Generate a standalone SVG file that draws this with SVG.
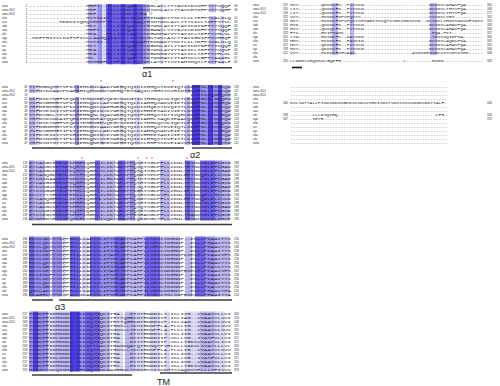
<svg xmlns="http://www.w3.org/2000/svg" width="500" height="386" viewBox="0 0 500 386">
<style>
.s{font-family:"Liberation Mono",monospace;font-size:3.6px;fill:#1e1e2e}
.lb{font-family:"Liberation Sans",sans-serif;font-size:3px;fill:#333}
.nm{font-family:"Liberation Sans",sans-serif;font-size:3px;fill:#333}
.ne{font-family:"Liberation Sans",sans-serif;font-size:3px;fill:#333;text-anchor:end}
.c1{fill:#dcdaf7}.c2{fill:#bdb8f3}.c3{fill:#968ef0}.c4{fill:#6d61ef}.c5{fill:#4a3be6}
.ul{stroke:#3c3c3c;stroke-width:1.5}
.ast{font-family:"Liberation Sans",sans-serif;font-size:5px;fill:#e0352a;text-anchor:middle}
.ttl{font-family:"Liberation Sans",sans-serif;font-size:9px;fill:#222}
</style>
<defs>
<g id="labels">
<text class="lb" x="2" y="1.1">ama</text><text class="lb" x="2" y="5.1">ama-iX01</text><text class="lb" x="2" y="9.1">ama-iX02</text><text class="lb" x="2" y="13.1">aha</text><text class="lb" x="2" y="17.1">aca</text><text class="lb" x="2" y="21.1">ado</text><text class="lb" x="2" y="25.1">aaa</text><text class="lb" x="2" y="29.1">afu</text><text class="lb" x="2" y="33.1">aga</text><text class="lb" x="2" y="37.1">aha</text><text class="lb" x="2" y="41.1">asi</text><text class="lb" x="2" y="45.1">aja</text><text class="lb" x="2" y="49.1">aka</text><text class="lb" x="2" y="53.1">afa</text><text class="lb" x="2" y="57.1">ama</text>
</g>
</defs>
<rect width="500" height="386" fill="#fff"/>

<!-- Block 1 -->
<g id="block1" transform="translate(0,6.2)">
<use href="#labels"/>
<rect class="c2" x="88" y="-2" width="10" height="60"/><rect class="c3" x="98" y="-2" width="4" height="60"/><rect class="c1" x="102" y="-2" width="4" height="60"/><rect class="c4" x="106" y="-2" width="37" height="60"/><rect class="c5" x="108" y="-2" width="4" height="60"/><rect class="c5" x="121" y="-2" width="4" height="60"/><rect class="c5" x="133" y="-2" width="4" height="60"/><rect class="c3" x="143" y="-2" width="3" height="60"/><rect class="c2" x="146" y="-2" width="4" height="60"/><rect class="c1" x="160" y="-2" width="3" height="60"/><rect class="c2" x="209" y="-2" width="7" height="60"/><rect class="c1" x="220" y="-2" width="4" height="60"/>
<rect fill="#fff" x="146.8" y="6" width="85" height="4"/>
<g class="ne"><text x="27.5" y="1.1">1</text><text x="27.5" y="5.1">1</text><text x="27.5" y="9.1">1</text><text x="27.5" y="13.1">1</text><text x="27.5" y="17.1">1</text><text x="27.5" y="21.1">1</text><text x="27.5" y="25.1">1</text><text x="27.5" y="29.1">1</text><text x="27.5" y="33.1">1</text><text x="27.5" y="37.1">1</text><text x="27.5" y="41.1">1</text><text x="27.5" y="45.1">1</text><text x="27.5" y="49.1">1</text><text x="27.5" y="53.1">1</text><text x="27.5" y="57.1">1</text></g>
<g class="s">
<text x="29" y="1.1" textLength="202" lengthAdjust="spacingAndGlyphs">-----------------MRFT--YLLLCIQAAYSSKRLAYLYTYAVICDINFPYTTVQQF</text>
<text x="29" y="5.1" textLength="202" lengthAdjust="spacingAndGlyphs">-----------------MRF---YLLLCIHLVVHSKTWSLAYLYTAVCHTDFPYTTVQHF</text>
<text x="29" y="9.1" textLength="117.8" lengthAdjust="spacingAndGlyphs">-----------------MRF---YLLLCIHLVVHA</text>
<text x="29" y="13.1" textLength="202" lengthAdjust="spacingAndGlyphs">-----------------MSSICIC-LLVVCGIAAHTENWAKYYSCTLCLTEFPYVALNLQ</text>
<text x="29" y="17.1" textLength="202" lengthAdjust="spacingAndGlyphs">---------MKDKITQMQKEEPPIPLLLGCIAAQVRSMTWSLAYLYTYVICLTDFPYTVL</text>
<text x="29" y="21.1" textLength="202" lengthAdjust="spacingAndGlyphs">-----------------MKT---YLLICIQASYSSRTWNLAYIYTAVICDTDFPYTVQQF</text>
<text x="29" y="25.1" textLength="202" lengthAdjust="spacingAndGlyphs">-----------------MRFT--YLLLCIQAAYSSKRWAYLYTYAVICDINFPYTTVQQF</text>
<text x="29" y="29.1" textLength="202" lengthAdjust="spacingAndGlyphs">-----------------MEA---FLLICILAAYSSKRWNMAYVYTAVICLTEFPYVHLNL</text>
<text x="29" y="33.1" textLength="202" lengthAdjust="spacingAndGlyphs">-MKFPHISVLKIFSFISCLAAMQQIAVLLLVVVGSHKTWSLAYLYTAVIGDIFPVVHRQF</text>
<text x="29" y="37.1" textLength="202" lengthAdjust="spacingAndGlyphs">-----------------MSSIC-C-LLVVCGIAAHTENWAKYYSCTLCLTEFPYVALNLQ</text>
<text x="29" y="41.1" textLength="202" lengthAdjust="spacingAndGlyphs">-----------------MKT---YLLLCIQAAYSSKRWNLAYLYTAVICDTDFPYTVQQF</text>
<text x="29" y="45.1" textLength="202" lengthAdjust="spacingAndGlyphs">-----------------MEA---YLLICIQASYSSRTWNLAYIYTAVICLTEFPYTVQKF</text>
<text x="29" y="49.1" textLength="202" lengthAdjust="spacingAndGlyphs">-----------------MEA---FLLICILAAYSSKRWNMAYVYTAVICLTEFPYVHLNL</text>
<text x="29" y="53.1" textLength="202" lengthAdjust="spacingAndGlyphs">-----------------MN----YLLLCIQAPYSSKTWNMAYLYTAMICLSGFPYAAAHL</text>
<text x="29" y="57.1" textLength="202" lengthAdjust="spacingAndGlyphs">-----------------MNMRRFLLFFVVILSQTWSLAYVYTSVIAMSMQTLPKTFAALF</text>
</g>
<g class="nm"><text x="234" y="1.1">48</text><text x="234" y="5.1">48</text><text x="149" y="9.1">17</text><text x="234" y="13.1">50</text><text x="234" y="17.1">58</text><text x="234" y="21.1">48</text><text x="234" y="25.1">48</text><text x="234" y="29.1">48</text><text x="234" y="33.1">59</text><text x="234" y="37.1">50</text><text x="234" y="41.1">48</text><text x="234" y="45.1">48</text><text x="234" y="49.1">48</text><text x="234" y="53.1">47</text><text x="234" y="57.1">46</text></g>
</g>

<!-- Block 2 -->
<g id="block2" transform="translate(0,87)">
<use href="#labels"/>
<rect class="c2" x="29" y="-2" width="6" height="60"/><rect class="c1" x="35" y="-2" width="5" height="60"/><rect class="c1" x="55" y="-2" width="3" height="60"/><rect class="c3" x="75" y="-2" width="4" height="60"/><rect class="c1" x="90" y="-2" width="4" height="60"/><rect class="c1" x="100" y="-2" width="4" height="60"/><rect class="c1" x="120" y="-2" width="3" height="60"/><rect class="c1" x="135" y="-2" width="5" height="60"/><rect class="c2" x="185" y="-2" width="5" height="60"/><rect class="c5" x="192" y="-2" width="8" height="60"/><rect class="c3" x="200" y="-2" width="8" height="60"/><rect class="c5" x="208" y="-2" width="5" height="60"/><rect class="c3" x="213" y="-2" width="5" height="60"/><rect class="c5" x="218" y="-2" width="4" height="60"/><rect class="c2" x="222" y="-2" width="8" height="60"/>
<rect fill="#fff" x="29" y="6" width="161.6" height="4"/>
<g class="ne"><text x="27.5" y="1.1">49</text><text x="27.5" y="5.1">49</text><text x="27.5" y="9.1">18</text><text x="27.5" y="13.1">51</text><text x="27.5" y="17.1">59</text><text x="27.5" y="21.1">49</text><text x="27.5" y="25.1">49</text><text x="27.5" y="29.1">49</text><text x="27.5" y="33.1">60</text><text x="27.5" y="37.1">51</text><text x="27.5" y="41.1">49</text><text x="27.5" y="45.1">49</text><text x="27.5" y="49.1">49</text><text x="27.5" y="53.1">48</text><text x="27.5" y="57.1">47</text></g>
<g class="s">
<text x="29" y="1.1" textLength="202" lengthAdjust="spacingAndGlyphs">YYFDGNQMRTVPKTIEHKGNVAADYWERQTQICICHHQSTKVEIQTLKDRFNLLIKCKQW</text>
<text x="29" y="5.1" textLength="202" lengthAdjust="spacingAndGlyphs">YYFDTKKAAVPKAERHIQMNWEDYWERQTETNAQICYHHSTKVRIDTRKDFNLLIKCKQW</text>
<text x="190.6" y="9.1" textLength="40.4" lengthAdjust="spacingAndGlyphs">LLIKCKQWFQDG</text>
<text x="29" y="13.1" textLength="202" lengthAdjust="spacingAndGlyphs">CKFDSKTNRFVPQKITEHKNGEVQEGYSDKGTICTHHKQSSKIQKTLEKNFGVILRCQEW</text>
<text x="29" y="17.1" textLength="202" lengthAdjust="spacingAndGlyphs">YVFDSGHMRTVPKTIEHKQNVLAEYWERQTQLCIAHHQSAKVEIETLKGRFNLLIKCRQW</text>
<text x="29" y="21.1" textLength="202" lengthAdjust="spacingAndGlyphs">YHFDEGKHRKIPKSIEHKQNSCAEHWERQTQVCICHQESTKVQISTLKERFNLLIRCKQW</text>
<text x="29" y="25.1" textLength="202" lengthAdjust="spacingAndGlyphs">YVFDSEIKIYVPKRIEHKQDIDSKYWESQTQICVHHEESAKIVIETLNSKFNLLLKCKQW</text>
<text x="29" y="29.1" textLength="202" lengthAdjust="spacingAndGlyphs">YYFDSGKLYEVPKSMEHRQNLSQAYWEHQTQMIFCHHQSTKTIVQHLEKRFNLLVKCRQW</text>
<text x="29" y="33.1" textLength="202" lengthAdjust="spacingAndGlyphs">YHFDSKSNKAIPQRIEHKNNEATQQWSEQTNVCIAHHLSAQKIEAALQKNFNLLLKCKQW</text>
<text x="29" y="37.1" textLength="202" lengthAdjust="spacingAndGlyphs">CKYDSKTNRFVPQKITEHRNGEVQEGYSDKGTICTHHKQSSKIQKTLERNFGVILRCQEW</text>
<text x="29" y="41.1" textLength="202" lengthAdjust="spacingAndGlyphs">YYFDGNHMRTVPKTIEHKGNVAADYWERQTQICICHHQSTKVEIQTLKERFNLLIKCKQW</text>
<text x="29" y="45.1" textLength="202" lengthAdjust="spacingAndGlyphs">YVFDSGHMRTIPKTIEHKQNVLAEYWERQTQLCIAHHQSAKVEIETLKGRFNLLIKCRQW</text>
<text x="29" y="49.1" textLength="202" lengthAdjust="spacingAndGlyphs">YIFDSEIKVYVPKRIEHKQDIDSKYWESQTQICVHHEESAKIVIETLNSKFNLLLKCKQW</text>
<text x="29" y="53.1" textLength="202" lengthAdjust="spacingAndGlyphs">YYFDSNKHKTIPKSIEHKQNSVVESWEKQTQICICHHQSTKVEISTLKNRFNLLIRCKQW</text>
<text x="29" y="57.1" textLength="202" lengthAdjust="spacingAndGlyphs">YHFDSNTNTTVPKSIEHKQNEGEESWERRTQMSSLHHFSSKVEIASVRRRFNLLIRCTEW</text>
</g>
<g class="nm"><text x="234" y="1.1">118</text><text x="234" y="5.1">117</text><text x="234" y="9.1">30</text><text x="234" y="13.1">120</text><text x="234" y="17.1">128</text><text x="234" y="21.1">118</text><text x="234" y="25.1">118</text><text x="234" y="29.1">118</text><text x="234" y="33.1">129</text><text x="234" y="37.1">120</text><text x="234" y="41.1">118</text><text x="234" y="45.1">118</text><text x="234" y="49.1">118</text><text x="234" y="53.1">117</text><text x="234" y="57.1">115</text></g>
</g>

<!-- Block 3 -->
<g id="block3" transform="translate(0,162.5)">
<use href="#labels"/>
<rect class="c3" x="29" y="-2" width="4" height="60"/><rect class="c2" x="33" y="-2" width="12" height="60"/><rect class="c4" x="55" y="-2" width="13" height="60"/><rect class="c2" x="68" y="-2" width="7" height="60"/><rect class="c3" x="75" y="-2" width="10" height="60"/><rect class="c4" x="95" y="-2" width="5" height="60"/><rect class="c2" x="100" y="-2" width="15" height="60"/><rect class="c4" x="118" y="-2" width="7" height="60"/><rect class="c2" x="125" y="-2" width="5" height="60"/><rect class="c3" x="130" y="-2" width="5" height="60"/><rect class="c1" x="138" y="-2" width="4" height="60"/><rect class="c2" x="160" y="-2" width="10" height="60"/><rect class="c4" x="185" y="-2" width="5" height="60"/><rect class="c3" x="190" y="-2" width="5" height="60"/><rect class="c4" x="200" y="-2" width="15" height="60"/><rect class="c3" x="215" y="-2" width="7" height="60"/><rect class="c2" x="222" y="-2" width="8" height="60"/>
<g class="ne"><text x="27.5" y="1.1">119</text><text x="27.5" y="5.1">118</text><text x="27.5" y="9.1">31</text><text x="27.5" y="13.1">121</text><text x="27.5" y="17.1">129</text><text x="27.5" y="21.1">119</text><text x="27.5" y="25.1">119</text><text x="27.5" y="29.1">119</text><text x="27.5" y="33.1">130</text><text x="27.5" y="37.1">121</text><text x="27.5" y="41.1">119</text><text x="27.5" y="45.1">119</text><text x="27.5" y="49.1">119</text><text x="27.5" y="53.1">118</text><text x="27.5" y="57.1">116</text></g>
<g class="s">
<text x="29" y="1.1" textLength="202" lengthAdjust="spacingAndGlyphs">ETCAKGCRHENPKHRFCQGELILKKTWEVPPQSRTSGCPFLLCKNLYETNCKRLEFCGSD</text>
<text x="29" y="5.1" textLength="202" lengthAdjust="spacingAndGlyphs">ETCAKGCKEVNPKQRYCQGELVLKKTWETPPQSQTSGCPFLLCKNLYETNCKRLEFCGAD</text>
<text x="29" y="9.1" textLength="202" lengthAdjust="spacingAndGlyphs">DTCAKGCKEVNPKQRYCQGELVLKKTWETPPQSQTSGCPFLLCKNLYETNCKRLEFCGAD</text>
<text x="29" y="13.1" textLength="202" lengthAdjust="spacingAndGlyphs">ETCANQGKHENLKEKFCQGEMLVKKSWEKPPQNGTSECPFLLCKNLHETNCQRLELCSKD</text>
<text x="29" y="17.1" textLength="202" lengthAdjust="spacingAndGlyphs">ETCNKNAAKESPKHKYCQGELILRKSWELPPQTKTSGCPYLLCKNLYEKNCKRLEFCGAD</text>
<text x="29" y="21.1" textLength="202" lengthAdjust="spacingAndGlyphs">ETCAKGCRHENPKQRFCQGELILKKTWEVPPQSHTSGCPFLLCKNLYETNCKRLEFCGSD</text>
<text x="29" y="25.1" textLength="202" lengthAdjust="spacingAndGlyphs">DTCVKGCKEANPKHRFCQGELVLKKTWETPPKSQTSGCPFLLCKNLYESNCKRLEFCGAD</text>
<text x="29" y="29.1" textLength="202" lengthAdjust="spacingAndGlyphs">ETCSKGWRTDSPEHRLCQGEIILKKNWEEPPNGRTSGCPFLLCRNLNETNCKRLEFCGKD</text>
<text x="29" y="33.1" textLength="202" lengthAdjust="spacingAndGlyphs">ECSYTYSRWDNPEHKLCQGELIVRKSWKTPPQSRSSGCKYFLCKNLYKKDCQRLLHCGSD</text>
<text x="29" y="37.1" textLength="202" lengthAdjust="spacingAndGlyphs">ETCANQGRHENLKEKFCQGEMLVKKSWERPPQNGTSDCPFLLCKNLHETNCQRLELCSKD</text>
<text x="29" y="41.1" textLength="202" lengthAdjust="spacingAndGlyphs">ETCAKGCRNENPKHRFCQGELILKKTWEVPPQSRTSGCPFLLCKNLYETNCKRLEFCGSD</text>
<text x="29" y="45.1" textLength="202" lengthAdjust="spacingAndGlyphs">ETCAKGCKEVNPKHRYCQGELVLKKTWETPPQSQTSGCPFLLCKNLYETNCKRLEFCGAD</text>
<text x="29" y="49.1" textLength="202" lengthAdjust="spacingAndGlyphs">ETCVKGCRHDNPKQRFCQGELILKKTWEVPPQSRTSGCPFLLCKNLYESNCKRLEFCGSD</text>
<text x="29" y="53.1" textLength="202" lengthAdjust="spacingAndGlyphs">ETCSEGCRHENPNHRFCHGELILKKTWEVPPRSRASGCPFLLCKNLYEANCKRLEFCGSE</text>
<text x="29" y="57.1" textLength="202" lengthAdjust="spacingAndGlyphs">KTWHHDSRIENPQHKFCKGELIVQKTWRAPPSQRGSGCTFLLCRNLYESNCKRLELCHSE</text>
</g>
<g class="nm"><text x="234" y="1.1">188</text><text x="234" y="5.1">187</text><text x="234" y="9.1">100</text><text x="234" y="13.1">190</text><text x="234" y="17.1">198</text><text x="234" y="21.1">188</text><text x="234" y="25.1">188</text><text x="234" y="29.1">188</text><text x="234" y="33.1">199</text><text x="234" y="37.1">190</text><text x="234" y="41.1">188</text><text x="234" y="45.1">188</text><text x="234" y="49.1">188</text><text x="234" y="53.1">187</text><text x="234" y="57.1">185</text></g>
</g>

<!-- Block 4 -->
<g id="block4" transform="translate(0,238.5)">
<use href="#labels"/>
<rect class="c4" x="29" y="-2" width="5" height="60"/><rect class="c3" x="34" y="-2" width="16" height="60"/><rect class="c3" x="52" y="-2" width="10" height="60"/><rect class="c1" x="62" y="-2" width="4" height="60"/><rect class="c4" x="70" y="-2" width="10" height="60"/><rect class="c1" x="82" y="-2" width="6" height="60"/><rect class="c4" x="90" y="-2" width="10" height="60"/><rect class="c3" x="100" y="-2" width="15" height="60"/><rect class="c4" x="115" y="-2" width="10" height="60"/><rect class="c2" x="125" y="-2" width="20" height="60"/><rect class="c4" x="145" y="-2" width="15" height="60"/><rect class="c2" x="160" y="-2" width="20" height="60"/><rect class="c2" x="185" y="-2" width="7" height="60"/><rect class="c4" x="195" y="-2" width="10" height="60"/><rect class="c3" x="205" y="-2" width="10" height="60"/><rect class="c2" x="215" y="-2" width="15" height="60"/>
<g class="ne"><text x="27.5" y="1.1">189</text><text x="27.5" y="5.1">188</text><text x="27.5" y="9.1">101</text><text x="27.5" y="13.1">191</text><text x="27.5" y="17.1">199</text><text x="27.5" y="21.1">189</text><text x="27.5" y="25.1">189</text><text x="27.5" y="29.1">189</text><text x="27.5" y="33.1">200</text><text x="27.5" y="37.1">191</text><text x="27.5" y="41.1">189</text><text x="27.5" y="45.1">189</text><text x="27.5" y="49.1">189</text><text x="27.5" y="53.1">188</text><text x="27.5" y="57.1">186</text></g>
<g class="s">
<text x="29" y="1.1" textLength="202" lengthAdjust="spacingAndGlyphs">EKSLNKYTYCPPGILLCAEISLIPSHCAEPCAFPLLSKICTDRNNP--ECLLPKAAVTYS</text>
<text x="29" y="5.1" textLength="202" lengthAdjust="spacingAndGlyphs">EKSLQKYSYCPPGVLLCAEISLIPTHCAEPCAFPVLSRVCTDRNNP--ECLLPRAAVTYS</text>
<text x="29" y="9.1" textLength="202" lengthAdjust="spacingAndGlyphs">EKSLQKYSYCPPGVLLCAEISLIPTHCAEPCAFPVLSRVCTDRNNP--ECLLPRAAVTYS</text>
<text x="29" y="13.1" textLength="202" lengthAdjust="spacingAndGlyphs">EKSINKFTYCPPGILLCAEVSLIPSHCVEPCAFPLLSKICTDRHNP--ECLLPKAAITYS</text>
<text x="29" y="17.1" textLength="202" lengthAdjust="spacingAndGlyphs">DKSLKEYTYCPPGTILCAEISLISAHCTEPCAFPLLSRICNDRNDPKIECFLPKAAVSFS</text>
<text x="29" y="21.1" textLength="202" lengthAdjust="spacingAndGlyphs">EKSLNKYTYCPPGILLCAEISLIPSHCAEPCAFPLLSKICTDRNNP--ECLLPKAAVTYS</text>
<text x="29" y="25.1" textLength="202" lengthAdjust="spacingAndGlyphs">EKSLQKYSYCPPGVLLCAEISLIPTHCAEPCAFPVLSRVCTDRNNP--ECLLPRAAVTYS</text>
<text x="29" y="29.1" textLength="202" lengthAdjust="spacingAndGlyphs">EKTLNRYTYCPPGILLCSEISIIPSHCAEPCAYPLLSKVCTDKNNP--ECLLPKASVTYS</text>
<text x="29" y="33.1" textLength="202" lengthAdjust="spacingAndGlyphs">DKSLKEYTYCPPGTVLCAEISLISAHCTEPCAFPLLSRICNDRNDPRVECFLPKAAVSFS</text>
<text x="29" y="37.1" textLength="202" lengthAdjust="spacingAndGlyphs">EKSINKFTYCPPGILLCAEVSLIPSHCVEPCAFPLLSKICTDRHNP--ECLLPKAAITYS</text>
<text x="29" y="41.1" textLength="202" lengthAdjust="spacingAndGlyphs">EKSLNKYTYCPPGILLCAEISLIPSHCAEPCAFPLLSKICTDRNNP--ECLLPKAAVTYS</text>
<text x="29" y="45.1" textLength="202" lengthAdjust="spacingAndGlyphs">EKSLQKYSYCPPGVLLCAEISLIPTHCAEPCAFPVLSRVCTDRNNP--ECLLPRAAVTYS</text>
<text x="29" y="49.1" textLength="202" lengthAdjust="spacingAndGlyphs">EKTLNRYTYCPPGILLCSEISIIPSHCAEPCAYPLLSKVCTDKNNP--ECLLPKASVTYS</text>
<text x="29" y="53.1" textLength="202" lengthAdjust="spacingAndGlyphs">QRSLAKYTYCPPGVLLCAELSLIPSHCMEPCAFPILSRMCKDRNSP--ECILPRAAVTFA</text>
<text x="29" y="57.1" textLength="202" lengthAdjust="spacingAndGlyphs">EKAGRLYTYCSPAVLICAEINLIPSHCAEPCAFPLMSRLCTDLSNPRVECLLPHAAITYA</text>
</g>
<g class="nm"><text x="234" y="1.1">256</text><text x="234" y="5.1">255</text><text x="234" y="9.1">168</text><text x="234" y="13.1">258</text><text x="234" y="17.1">266</text><text x="234" y="21.1">256</text><text x="234" y="25.1">256</text><text x="234" y="29.1">256</text><text x="234" y="33.1">267</text><text x="234" y="37.1">258</text><text x="234" y="41.1">256</text><text x="234" y="45.1">256</text><text x="234" y="49.1">256</text><text x="234" y="53.1">255</text><text x="234" y="57.1">254</text></g>
</g>

<!-- Block 5 -->
<g id="block5" transform="translate(0,313.5)">
<use href="#labels"/>
<rect class="c3" x="29" y="-2" width="4" height="60"/><rect class="c5" x="33" y="-2" width="5" height="60"/><rect class="c3" x="38" y="-2" width="10" height="60"/><rect class="c1" x="48" y="-2" width="7" height="60"/><rect class="c2" x="55" y="-2" width="15" height="60"/><rect class="c5" x="70" y="-2" width="10" height="60"/><rect class="c3" x="80" y="-2" width="5" height="60"/><rect class="c4" x="85" y="-2" width="15" height="60"/><rect class="c2" x="100" y="-2" width="10" height="60"/><rect class="c1" x="115" y="-2" width="8" height="60"/><rect class="c2" x="125" y="-2" width="10" height="60"/><rect class="c1" x="135" y="-2" width="10" height="60"/><rect class="c1" x="150" y="-2" width="10" height="60"/><rect class="c1" x="165" y="-2" width="5" height="60"/><rect class="c1" x="185" y="-2" width="15" height="60"/><rect class="c2" x="200" y="-2" width="15" height="60"/><rect class="c1" x="215" y="-2" width="10" height="60"/>
<g class="ne"><text x="27.5" y="1.1">257</text><text x="27.5" y="5.1">256</text><text x="27.5" y="9.1">169</text><text x="27.5" y="13.1">259</text><text x="27.5" y="17.1">267</text><text x="27.5" y="21.1">257</text><text x="27.5" y="25.1">257</text><text x="27.5" y="29.1">257</text><text x="27.5" y="33.1">268</text><text x="27.5" y="37.1">259</text><text x="27.5" y="41.1">257</text><text x="27.5" y="45.1">257</text><text x="27.5" y="49.1">257</text><text x="27.5" y="53.1">256</text><text x="27.5" y="57.1">255</text></g>
<g class="s">
<text x="29" y="1.1" textLength="202" lengthAdjust="spacingAndGlyphs">TLNKPFIDMNNKE-TLCVQYNQCITRA---ETSTRNDDILS-ICLIVG--VVAAYVLLVI</text>
<text x="29" y="5.1" textLength="202" lengthAdjust="spacingAndGlyphs">TLNKPFIEMNNKE-TLCVQYNQCITRTTQGRSNTRNDDIVP-ICLIAG--VVAAYVLVVI</text>
<text x="29" y="9.1" textLength="202" lengthAdjust="spacingAndGlyphs">TLNKPFIEMNNKE-TLCVQYNQCITRTTQGRSNTRNDDIVP-ICLIAG--VVAAYVLVVI</text>
<text x="29" y="13.1" textLength="202" lengthAdjust="spacingAndGlyphs">TLNKPFIDMNNKD-TLCIQYNQCITRNSLLTDSIRNNPFLA-PLCLIG--VVAAYVLSVV</text>
<text x="29" y="17.1" textLength="202" lengthAdjust="spacingAndGlyphs">TLNKPFIDMNNKD-TLCVQYNQCISRNSLLTESIRNNPFLA-PLCLIG--VVAAYVLSVV</text>
<text x="29" y="21.1" textLength="202" lengthAdjust="spacingAndGlyphs">TLNKPFIDMNNKE-TLCVQYNQCITRA---ETSTRNDDILS-ICLIVG--VVAAYVLLVI</text>
<text x="29" y="25.1" textLength="202" lengthAdjust="spacingAndGlyphs">TLNKPFIDLNNKE-TLCVQYNQCKTRA---DSITRNDDIIP-VCLLVG--IVASFVLLVI</text>
<text x="29" y="29.1" textLength="202" lengthAdjust="spacingAndGlyphs">TLNKPFIEMNNKQ-TLCVQYNQCITRS---EISTRNDDIIP-VCLLTGKSVVAAYVLIVI</text>
<text x="29" y="33.1" textLength="202" lengthAdjust="spacingAndGlyphs">TLNKPFIDMNNKD-TLCVEYNACITRANDQATQTRNNQTPVRLCLLVAKVLIVAYLLLVL</text>
<text x="29" y="37.1" textLength="202" lengthAdjust="spacingAndGlyphs">TLNKPFIDMNNKD-TLCIQYNQCITRNSLLTDSIRNNPFLA-PLCLIG--VVAAYVLSVV</text>
<text x="29" y="41.1" textLength="202" lengthAdjust="spacingAndGlyphs">TLNKPFIDMNNKE-TLCVQYNQCITRA---ETSTRNDDILS-ICLIVG--VVAAYVLLVI</text>
<text x="29" y="45.1" textLength="202" lengthAdjust="spacingAndGlyphs">TLNKPFIDLNNKE-TLCVQYNQCKTRA---DSITRNDDIIP-VCLLVG--IVASFVLLVI</text>
<text x="29" y="49.1" textLength="202" lengthAdjust="spacingAndGlyphs">TLNKPFIDMNNKE-TLCVQYNQCITRA---ETSTRNDDILS-ICLIVG--VVAAYVLLVI</text>
<text x="29" y="53.1" textLength="202" lengthAdjust="spacingAndGlyphs">TLNKPFIEMNNKQ-TLCVQYNQCITRS---EISTRNDDIIP-VCLLTGKSVVAAYVLIVI</text>
<text x="29" y="57.1" textLength="202" lengthAdjust="spacingAndGlyphs">MLNGYSWKQIDNQ-TFCAQYNNCDAKRRNLTSEKHVYISCKMTSTAQDSSFLLLVFIVVV</text>
</g>
<g class="nm"><text x="234" y="1.1">316</text><text x="234" y="5.1">319</text><text x="234" y="9.1">248</text><text x="234" y="13.1">321</text><text x="234" y="17.1">325</text><text x="234" y="21.1">319</text><text x="234" y="25.1">317</text><text x="234" y="29.1">321</text><text x="234" y="33.1">340</text><text x="234" y="37.1">319</text><text x="234" y="41.1">316</text><text x="234" y="45.1">317</text><text x="234" y="49.1">320</text><text x="234" y="53.1">287</text><text x="234" y="57.1">319</text></g>
</g>

<!-- Right block 1 -->
<g id="block6" transform="translate(251,5)">
<use href="#labels"/>
</g>
<g id="block6seq" transform="translate(0,5)">
<rect class="c2" x="332" y="-2" width="6" height="52"/><rect class="c2" x="350" y="-2" width="4" height="52"/><rect class="c2" x="430" y="-2" width="7" height="52"/>
<g class="ne"><text x="288" y="1.1">317</text><text x="288" y="5.1">320</text><text x="288" y="9.1">249</text><text x="288" y="13.1">322</text><text x="288" y="17.1">326</text><text x="288" y="21.1">320</text><text x="288" y="25.1">318</text><text x="288" y="29.1">322</text><text x="288" y="33.1">341</text><text x="288" y="37.1">320</text><text x="288" y="41.1">317</text><text x="288" y="45.1">318</text><text x="288" y="49.1">321</text><text x="288" y="57.1">320</text></g>
<g class="s">
<text x="290" y="1.1" textLength="193" lengthAdjust="spacingAndGlyphs">MVY--------QKKKCFK--PVISCD-----------------------DCSNSLAHAVPQA------</text>
<text x="290" y="5.1" textLength="193" lengthAdjust="spacingAndGlyphs">LIY--------QKKKCFK--PVISCD-----------------------NCSNSLTHTVPQA------</text>
<text x="290" y="9.1" textLength="193" lengthAdjust="spacingAndGlyphs">LIY--------QKKKCFK--PVISCD-----------------------NCSNSLTHTVPQA------</text>
<text x="290" y="13.1" textLength="193" lengthAdjust="spacingAndGlyphs">VVY--------EKKKCFKPVPQKTS------------------------CCSNSLSRT----------</text>
<text x="290" y="17.1" textLength="193" lengthAdjust="spacingAndGlyphs">MVY--------EKKKCFKPVPQKTSEVAEKTKSQTIVNKSNDSCCE--DCSNSLTHNSSNKSDFSDIS</text>
<text x="290" y="21.1" textLength="193" lengthAdjust="spacingAndGlyphs">MVK--------QKKKCFK--PVISCD-----------------------DCSNSLAHAVPQA------</text>
<text x="290" y="25.1" textLength="193" lengthAdjust="spacingAndGlyphs">MVY--------QKKQCFK--PVISCD-----------------------DCSNSLAHAVPQA------</text>
<text x="290" y="29.1" textLength="193" lengthAdjust="spacingAndGlyphs">FTC--------EKIPMAMC-------------------------------EQA-PKT-----------</text>
<text x="290" y="33.1" textLength="193" lengthAdjust="spacingAndGlyphs">LYW--------EKSNCFC--KASSKD------------------------TDSISQIDPKA-------</text>
<text x="290" y="37.1" textLength="193" lengthAdjust="spacingAndGlyphs">MMY--------EKKKCFK--FANSID-----------------------DCSNSLAQDCPKA------</text>
<text x="290" y="41.1" textLength="193" lengthAdjust="spacingAndGlyphs">MVY--------QKKKCFK--PVISCD-----------------------DCSNSLAHAVPQA------</text>
<text x="290" y="45.1" textLength="193" lengthAdjust="spacingAndGlyphs">MVY--------QKKKCFK--PVISCD-----------------------DCSNSLAHAVPQA------</text>
<text x="290" y="49.1" textLength="193" lengthAdjust="spacingAndGlyphs">VVY--------EKKKCFKHVAAN--------------------AVNSDENSDCCISSNSVSHK-----</text>
<text x="290" y="57.1" textLength="193" lengthAdjust="spacingAndGlyphs">LLWNMLCHQNCKLGQEFH----------------------L---------ENNN--------------</text>
</g>
<g class="nm"><text x="487" y="1.1">345</text><text x="487" y="5.1">348</text><text x="487" y="9.1">277</text><text x="487" y="13.1">342</text><text x="487" y="17.1">359</text><text x="487" y="21.1">348</text><text x="487" y="25.1">346</text><text x="487" y="29.1">337</text><text x="487" y="33.1">366</text><text x="487" y="37.1">347</text><text x="487" y="41.1">345</text><text x="487" y="45.1">346</text><text x="487" y="49.1">348</text><text x="487" y="57.1">343</text></g>
</g>

<!-- Right block 2 -->
<g id="block7" transform="translate(251,87)">
<use href="#labels"/>
</g>
<g id="block7seq" transform="translate(0,87)">
<g class="ne"><text x="288" y="17.1">360</text><text x="288" y="29.1">338</text><text x="288" y="33.1">367</text></g>
<g class="s">
<text x="290" y="1.1" textLength="157" lengthAdjust="spacingAndGlyphs">--------------------------------------------------------</text>
<text x="290" y="5.1" textLength="157" lengthAdjust="spacingAndGlyphs">--------------------------------------------------------</text>
<text x="290" y="9.1" textLength="157" lengthAdjust="spacingAndGlyphs">--------------------------------------------------------</text>
<text x="290" y="13.1" textLength="157" lengthAdjust="spacingAndGlyphs">--------------------------------------------------------</text>
<text x="290" y="17.1" textLength="157" lengthAdjust="spacingAndGlyphs">KSLSDTTALLPINKSDKNSGCDSCSDSVSHKISDSTSDISSVSCDNKSDDTTALF-</text>
<text x="290" y="21.1" textLength="157" lengthAdjust="spacingAndGlyphs">--------------------------------------------------------</text>
<text x="290" y="25.1" textLength="157" lengthAdjust="spacingAndGlyphs">--------------------------------------------------------</text>
<text x="290" y="29.1" textLength="157" lengthAdjust="spacingAndGlyphs">--------LLLNSQIHQ-----------------------------------LFR-</text>
<text x="290" y="33.1" textLength="157" lengthAdjust="spacingAndGlyphs">--------VEYR--------------------------------------------</text>
<text x="290" y="37.1" textLength="157" lengthAdjust="spacingAndGlyphs">--------------------------------------------------------</text>
<text x="290" y="41.1" textLength="157" lengthAdjust="spacingAndGlyphs">--------------------------------------------------------</text>
<text x="290" y="45.1" textLength="157" lengthAdjust="spacingAndGlyphs">--------------------------------------------------------</text>
<text x="290" y="49.1" textLength="157" lengthAdjust="spacingAndGlyphs">--------------------------------------------------------</text>
<text x="290" y="53.1" textLength="157" lengthAdjust="spacingAndGlyphs">--------------------------------------------------------</text>
<text x="290" y="57.1" textLength="157" lengthAdjust="spacingAndGlyphs">--------------------------------------------------------</text>
</g>
<g class="nm"><text x="487" y="17.1">443</text><text x="487" y="29.1">349</text><text x="487" y="33.1">370</text></g>
</g>

<!-- Structure underlines -->
<g id="connectors">
<line class="ul" x1="143" y1="67.8" x2="232" y2="67.8"/>
<line class="ul" x1="32" y1="148" x2="184" y2="148"/>
<line class="ul" x1="192" y1="148" x2="232" y2="148"/>
<line class="ul" x1="32" y1="224.5" x2="232" y2="224.5"/>
<line class="ul" x1="32" y1="300" x2="53" y2="300"/>
<line class="ul" x1="59" y1="300" x2="232" y2="300"/>
<line class="ul" x1="32" y1="375" x2="132" y2="375"/>
<line class="ul" x1="160" y1="373" x2="232" y2="373"/>
<line stroke="#111" stroke-width="1.6" x1="292" y1="67.5" x2="302" y2="67.5"/>
</g>
<g id="annotations">
<text class="ttl" x="142" y="77.3">α1</text>
<text class="ttl" x="190" y="157.5">α2</text>
<text class="ttl" x="55" y="310">α3</text>
<text class="ttl" x="157" y="385">TM</text>
<text class="ast" x="157" y="3.3" style="font-size:4.5px">*</text>
<text class="ast" x="101" y="84">*</text>
<text class="ast" x="173" y="84">*</text>
<text class="ast" x="82" y="160.5">*</text>
<text class="ast" x="138" y="160.5">*</text>
<text class="ast" x="147" y="160.5">*</text>
<text class="ast" x="152" y="160.5">*</text>
<text class="ast" x="187" y="160.5">*</text>
</g>
</svg>
